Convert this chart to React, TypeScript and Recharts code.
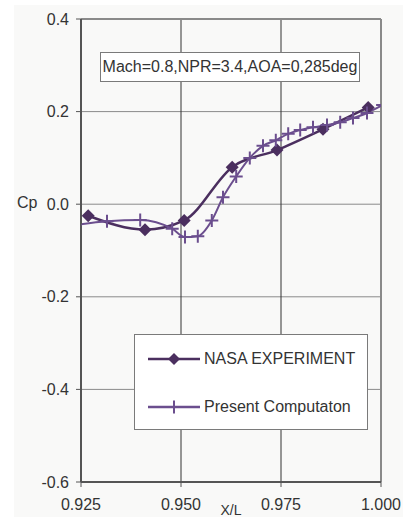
import React from "react";
import {
  LineChart,
  Line,
  XAxis,
  YAxis,
  CartesianGrid,
  ReferenceLine,
  Legend,
} from "recharts";

// ---- data ----
const expX = [0.9268, 0.9410, 0.9508, 0.9628, 0.9740, 0.9855, 0.9968];
const expCp = [-0.025, -0.055, -0.035, 0.080, 0.117, 0.162, 0.209];

const compX = [
  0.9235, 0.9315, 0.9398, 0.9478, 0.9510, 0.9542, 0.9577, 0.9605, 0.9638,
  0.9672, 0.9705, 0.9737, 0.9768, 0.9798, 0.9830, 0.9865, 0.9898, 0.9930,
  0.9965, 1.0004,
];
const compCp = [
  -0.045, -0.037, -0.034, -0.053, -0.071, -0.069, -0.035, 0.015, 0.060,
  0.100, 0.126, 0.138, 0.152, 0.160, 0.166, 0.171, 0.177, 0.186, 0.197,
  0.214,
];

const xTicks = [0.925, 0.95, 0.975, 1.0];
const yTicks = [-0.6, -0.4, -0.2, 0.0, 0.2, 0.4];

const seriesNames = ["NASA EXPERIMENT", "Present Computaton"];
const annotation = "Mach=0.8,NPR=3.4,AOA=0,285deg";

const expData = expX.map((x, i) => ({ x, cp: expCp[i] }));
const compData = compX.map((x, i) => ({ x, cp: compCp[i] }));

const EXP_COLOR = "#4b2f5f";
const COMP_COLOR = "#6b4e8e";
const FONT = "'Liberation Sans', Arial, sans-serif";
const TEXT = "#333";

const Diamond = (p: any) => {
  const { cx, cy, index } = p;
  if (cx == null || cy == null) return <g key={`d${index}`} />;
  const s = 6.5;
  return (
    <polygon
      key={`d${index}`}
      points={`${cx},${cy - s} ${cx + s},${cy} ${cx},${cy + s} ${cx - s},${cy}`}
      fill={EXP_COLOR}
    />
  );
};

const Cross = (p: any) => {
  const { cx, cy, index } = p;
  if (cx == null || cy == null) return <g key={`c${index}`} />;
  const s = 6.5;
  return (
    <path
      key={`c${index}`}
      d={`M${cx - s},${cy}H${cx + s}M${cx},${cy - s}V${cy + s}`}
      stroke={COMP_COLOR}
      strokeWidth={2}
      fill="none"
    />
  );
};

const LegendBox = () => (
  <div
    style={{
      width: 234,
      height: 96,
      boxSizing: "border-box",
      border: "1.5px solid #7a7a7a",
      background: "#fff",
      fontFamily: FONT,
      fontSize: 16,
      color: TEXT,
      position: "relative",
    }}
  >
    {seriesNames.map((name, i) => (
      <div
        key={name}
        style={{
          position: "absolute",
          left: 13,
          top: (i === 0 ? 24 : 72) - 11,
          height: 22,
          display: "flex",
          alignItems: "center",
          whiteSpace: "nowrap",
        }}
      >
        <svg width={56} height={22} style={{ display: "block" }}>
          <line x1={0} y1={11} x2={52} y2={11} stroke={i === 0 ? EXP_COLOR : COMP_COLOR} strokeWidth={2.5} />
          {i === 0 ? (
            <polygon points="26,5 32,11 26,17 20,11" fill={EXP_COLOR} />
          ) : (
            <path d="M26,4.5V17.5" stroke={COMP_COLOR} strokeWidth={2} />
          )}
        </svg>
        <span>{name}</span>
      </div>
    ))}
  </div>
);

export default function App() {
  return (
    <div
      style={{
        position: "absolute",
        left: 0,
        top: 0,
        width: 414,
        height: 517,
        overflow: "hidden",
        background: "#ffffff",
      }}
    >
      <div
        style={{
          position: "absolute",
          left: 14,
          top: 5,
          width: 389,
          height: 540,
          background: "#f9f9f8",
        }}
      />
      <div style={{ position: "absolute", left: 0, top: 0 }}>
        <LineChart
          width={414}
          height={530}
          margin={{ top: 19, right: 33, bottom: 0, left: 0 }}
        >
          <CartesianGrid horizontal={true} vertical={false} stroke="#8a8a8a" strokeWidth={1} />
          <CartesianGrid horizontal={false} vertical={true} stroke="#333" strokeWidth={1} />
          <ReferenceLine x={1.0} stroke="#8a8a8a" strokeWidth={2} />
          <ReferenceLine y={0.4} stroke="#8a8a8a" strokeWidth={2} />
          <XAxis
            type="number"
            dataKey="x"
            domain={[0.925, 1.0]}
            ticks={xTicks}
            allowDataOverflow
            tickFormatter={(v: number) => v.toFixed(3)}
            height={48}
            tickSize={5}
            tickMargin={12}
            axisLine={{ stroke: "#555", strokeWidth: 2 }}
            tickLine={{ stroke: "#555" }}
            tick={{ fill: TEXT, fontSize: 16, fontFamily: FONT }}
            label={{
              value: "X/L",
              position: "insideBottom",
              offset: 15,
              fill: TEXT,
              fontSize: 14,
              fontFamily: FONT,
            }}
          />
          <YAxis
            type="number"
            domain={[-0.6, 0.4]}
            ticks={yTicks}
            allowDataOverflow
            tickFormatter={(v: number) => v.toFixed(1)}
            width={81}
            tickSize={5}
            tickMargin={7}
            axisLine={{ stroke: "#555", strokeWidth: 2 }}
            tickLine={{ stroke: "#555" }}
            tick={{ fill: TEXT, fontSize: 16, fontFamily: FONT }}
            label={{
              value: "Cp",
              position: "insideTopLeft",
              offset: 0,
              content: () => (
                <text x={17} y={208} fill={TEXT} fontSize={16} fontFamily={FONT}>
                  Cp
                </text>
              ),
            }}
          />
          <Legend
            layout="vertical"
            align="center"
            verticalAlign="middle"
            wrapperStyle={{ left: 134, top: 334, width: 234, height: 96 }}
            content={() => <LegendBox />}
          />
          <Line
            data={expData}
            dataKey="cp"
            name={seriesNames[0]}
            type="monotone"
            stroke={EXP_COLOR}
            strokeWidth={2.5}
            dot={Diamond}
            activeDot={false}
            isAnimationActive={false}
          />
          <Line
            data={compData}
            dataKey="cp"
            name={seriesNames[1]}
            type="monotone"
            stroke={COMP_COLOR}
            strokeWidth={2}
            dot={Cross}
            activeDot={false}
            isAnimationActive={false}
          />
        </LineChart>
      </div>
      <div
        style={{
          position: "absolute",
          left: 100,
          top: 52,
          width: 260,
          height: 30,
          boxSizing: "border-box",
          border: "1.5px solid #7a7a7a",
          background: "#fff",
          fontFamily: FONT,
          fontSize: 16,
          color: TEXT,
          display: "flex",
          alignItems: "center",
          justifyContent: "center",
          whiteSpace: "nowrap",
        }}
      >
        {annotation}
      </div>
    </div>
  );
}
